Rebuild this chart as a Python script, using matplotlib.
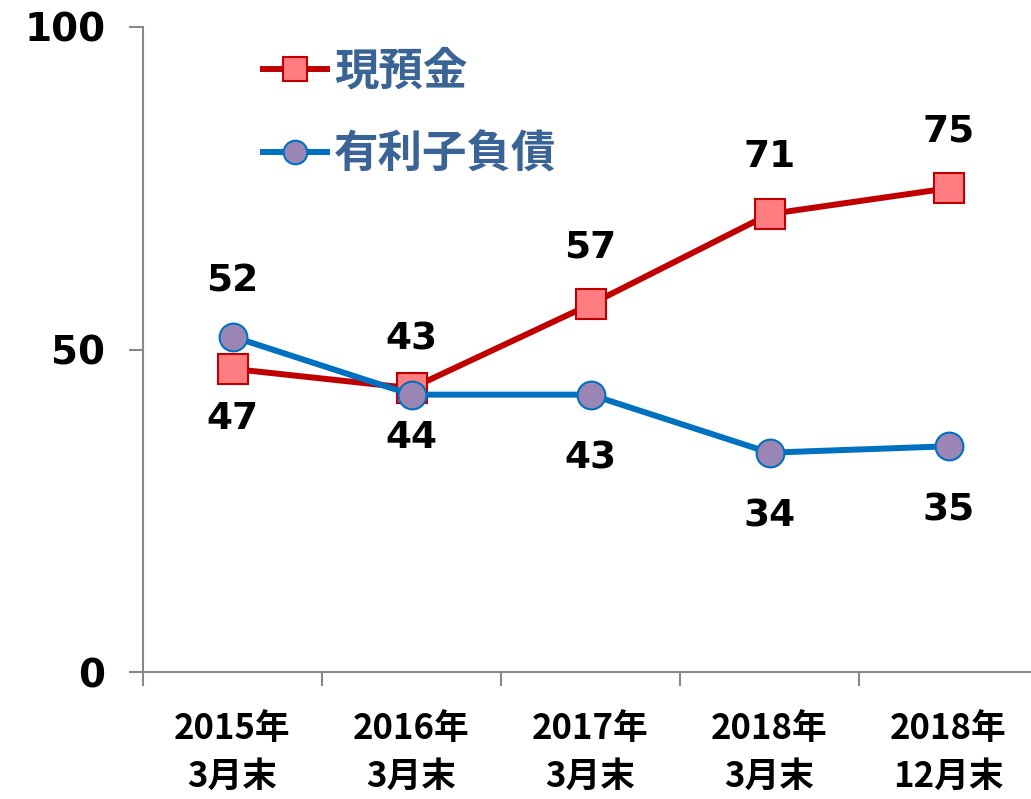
import matplotlib.pyplot as plt
import numpy as np

plt.rcParams['font.family'] = ['DejaVu Sans', 'Noto Sans CJK JP']

categories = ['2015年\n3月末', '2016年\n3月末', '2017年\n3月末', '2018年\n3月末', '2018年\n12月末']
cash = [47, 44, 57, 71, 75]          # 現預金
debt = [52, 43, 43, 34, 35]          # 有利子負債
cash_side = ['below', 'below', 'above', 'above', 'above']
debt_side = ['above', 'above', 'below', 'below', 'below']

fig = plt.figure(figsize=(10.31, 7.99), dpi=100)
ax = fig.add_axes([143/1031, 127/799, 895/1031, 645/799])

x = np.arange(len(categories))
red, red_face = '#C00000', '#FF7C80'
blue, blue_face = '#0070C0', '#9A85B4'

ax.plot(x, cash, color=red, lw=4.3, marker='s', ms=21, mfc=red_face, mec=red, mew=1.5,
        label='現預金', zorder=3)
ax.plot(x, debt, color=blue, lw=4.3, marker='o', ms=20, mfc=blue_face, mec=blue, mew=1.5,
        label='有利子負債', zorder=4)

def put_labels(vals, sides, up, down):
  for xi, v, s in zip(x, vals, sides):
    dy = up if s == 'above' else -down
    ax.annotate(str(v), (xi, v), xytext=(0, dy), textcoords='offset pixels',
                ha='center', va='center', fontsize=27, fontweight='bold', color='black')

put_labels(cash, cash_side, 57, 50)
put_labels(debt, debt_side, 55, 64)

ax.set_xlim(-0.5, len(categories) - 0.5)
ax.set_ylim(0, 100)
ax.set_yticks([0, 50, 100])
ax.set_yticklabels(['0', '50', '100'], fontsize=28, fontweight='bold')
ax.set_xticks(x)
ax.set_xticklabels(categories, fontsize=25, fontweight='bold', family='Noto Sans CJK JP',
                   linespacing=1.45)
ax.set_xticks(np.arange(-0.5, len(categories)), minor=True)
ax.tick_params(axis='x', which='major', length=0, pad=28)
ax.tick_params(axis='x', which='minor', length=10, width=1.5, color='#888888', direction='out')
ax.tick_params(axis='y', length=10, width=1.5, color='#888888', direction='out', pad=17)

for s in ['top', 'right']:
  ax.spines[s].set_visible(False)
for s in ['left', 'bottom']:
  ax.spines[s].set_color('#888888')
  ax.spines[s].set_linewidth(1.5)

leg = ax.legend(loc='upper left', bbox_to_anchor=(0.134, 0.967), frameon=False,
                borderaxespad=0, borderpad=0,
                handlelength=1.45, handletextpad=0.15, labelspacing=0.83, markerscale=0.85,
                prop={'family': 'Noto Sans CJK JP', 'weight': 'bold', 'size': 32})
for t in leg.get_texts():
  t.set_color('#3A6496')

fig.savefig('out.png', dpi=100)
